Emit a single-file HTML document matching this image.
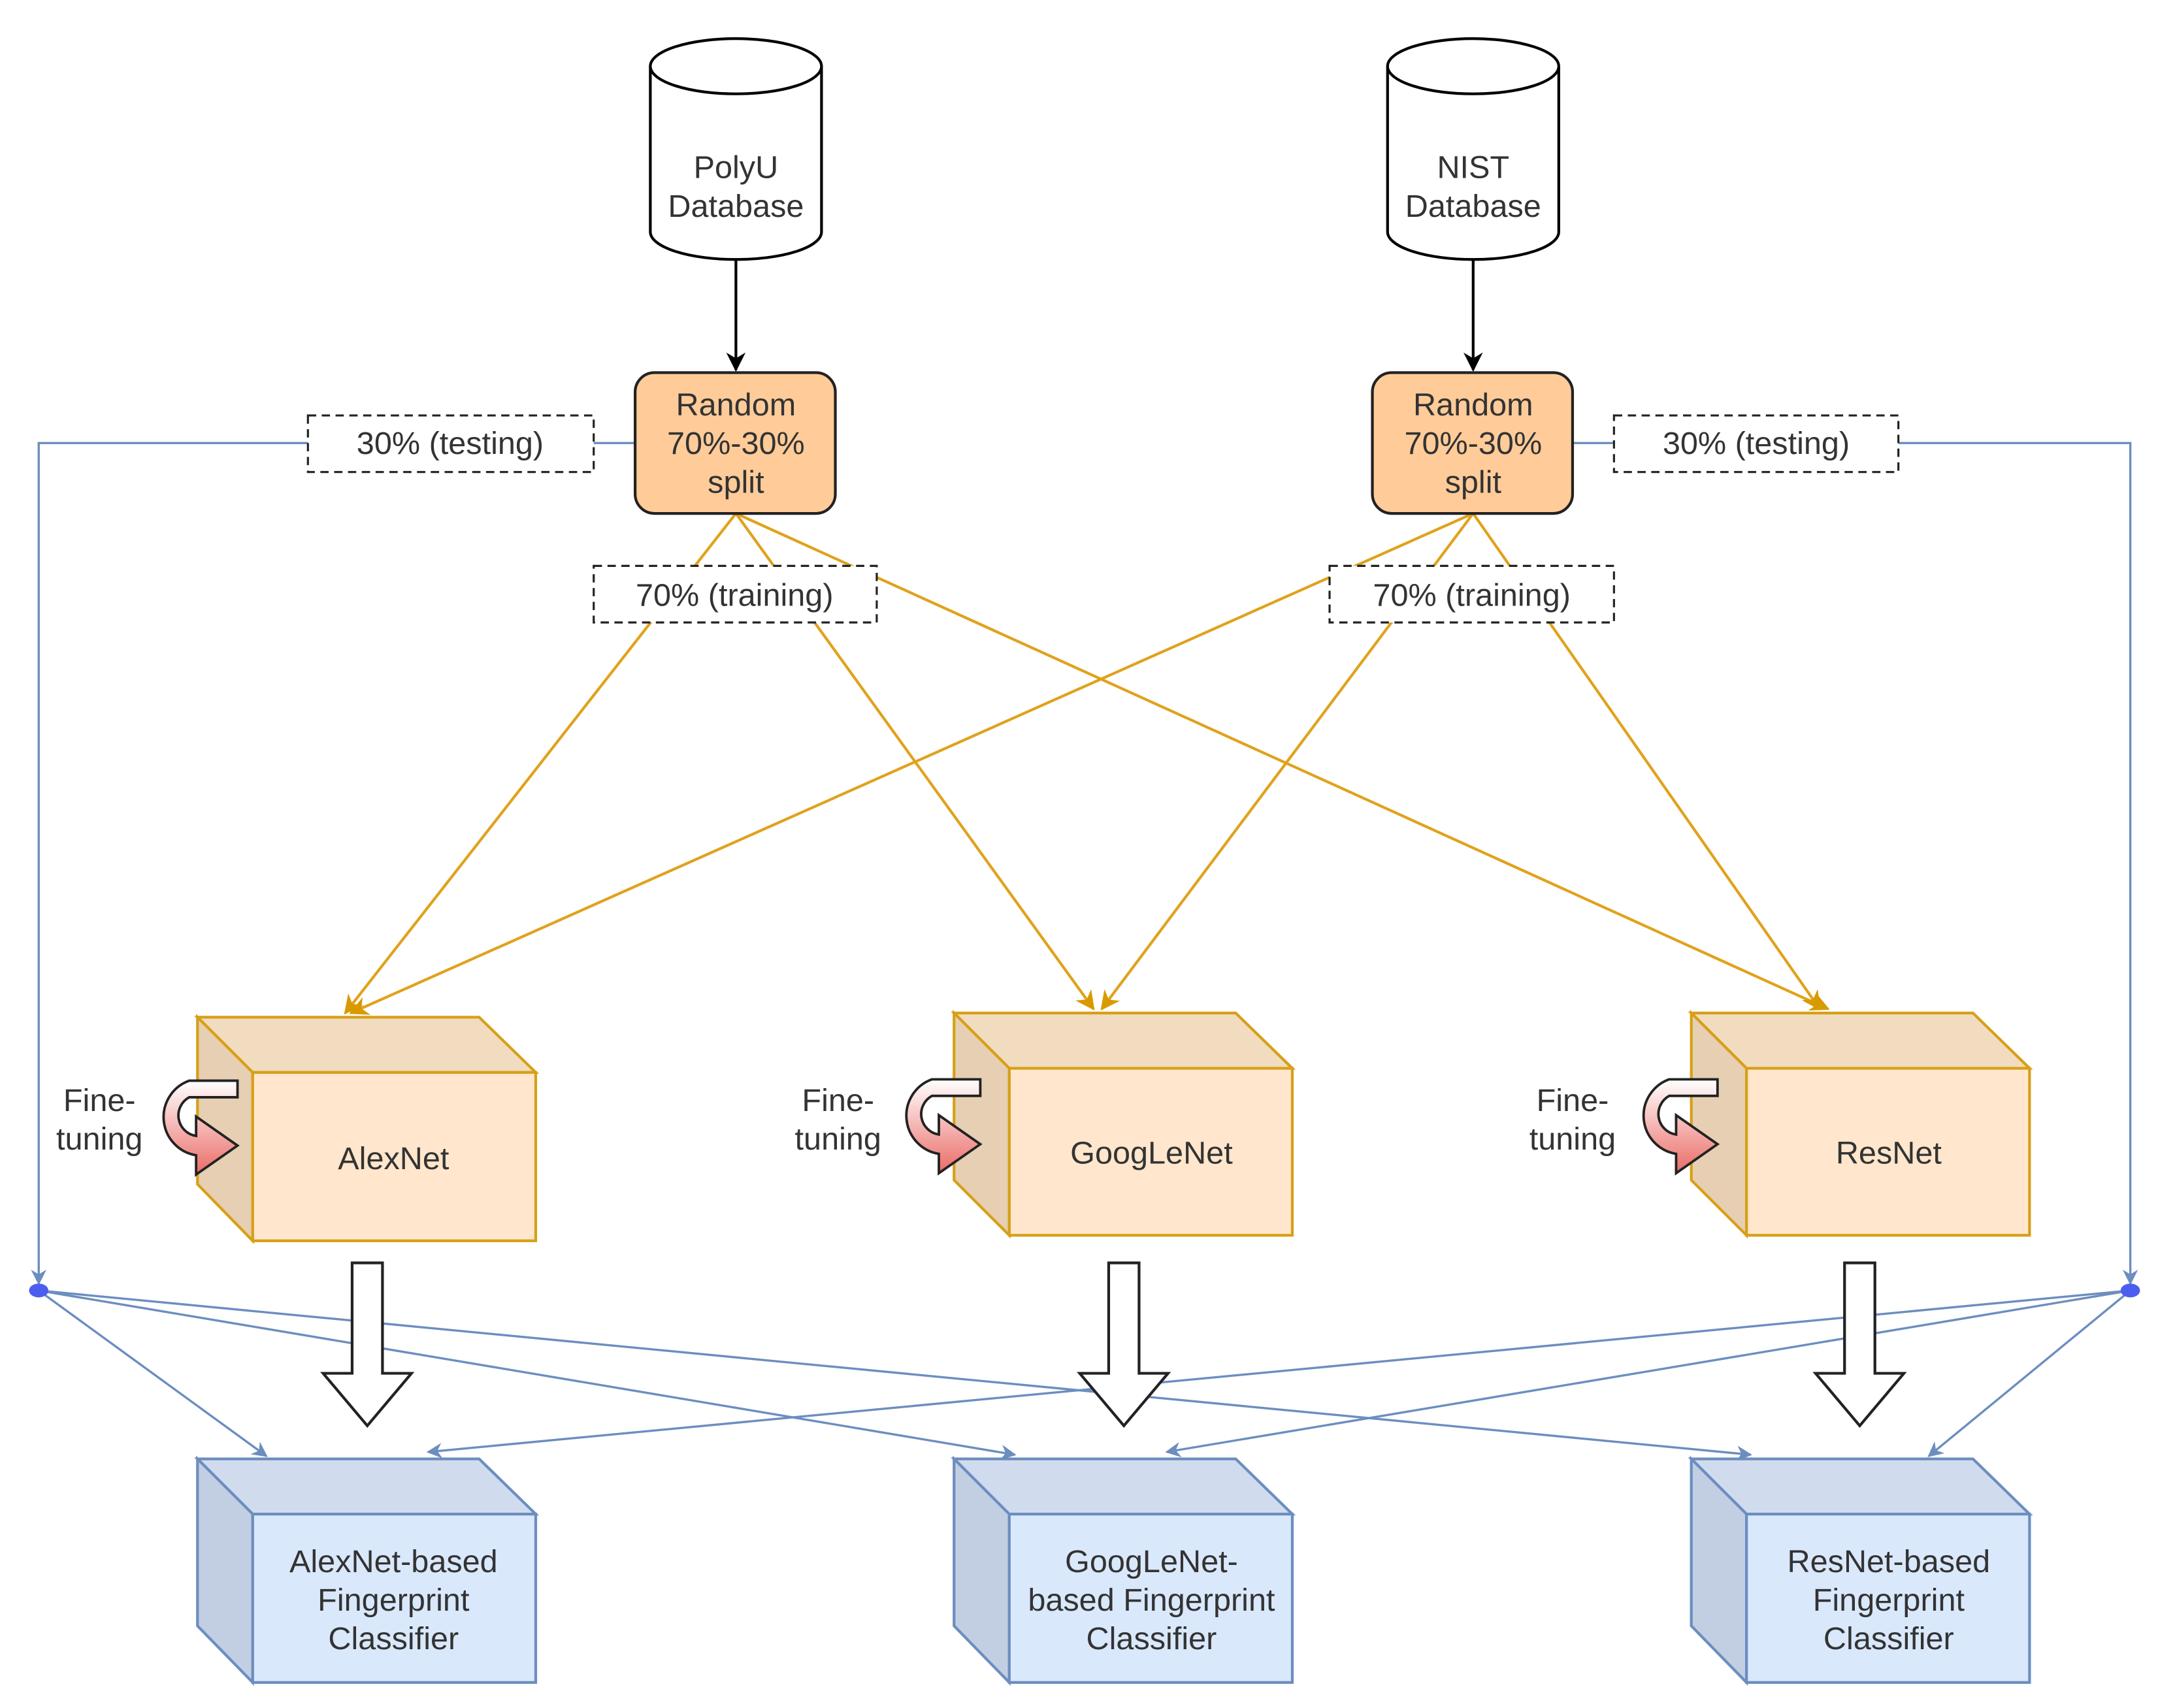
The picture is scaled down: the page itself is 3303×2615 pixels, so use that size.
<!DOCTYPE html>
<html><head><style>html,body{margin:0;padding:0;background:#fff}svg{display:block}</style></head>
<body>
<svg width="3303" height="2615" viewBox="0 0 1563 1237.5" xmlns="http://www.w3.org/2000/svg" font-family="Liberation Sans, sans-serif" font-size="23" fill="#333">
<defs>
<marker id="ab" viewBox="0 0 10 10" refX="9" refY="5" markerWidth="7" markerHeight="7" orient="auto"><path d="M0,0L10,5L0,10L3,5z" fill="#000"/></marker>
<marker id="ao" viewBox="0 0 10 10" refX="9" refY="5" markerWidth="7" markerHeight="7" orient="auto"><path d="M0,0L10,5L0,10L3,5z" fill="#d79b00"/></marker>
<marker id="abl" viewBox="0 0 10 10" refX="9" refY="5" markerWidth="7" markerHeight="7" orient="auto"><path d="M0,0L10,5L0,10L3,5z" fill="#6c8ebf"/></marker>
<linearGradient id="rg" x1="0" y1="0" x2="0" y2="1"><stop offset="0" stop-color="#fff"/><stop offset="1" stop-color="#ea6b66"/></linearGradient>
<g id="ft"><path d="M0,0 H-35 A28,28 0 0 0 -30,54 L-30,68 L0,47 L-30,26 L-30,40 A15,15 0 0 1 -35,12 H0 Z" fill="url(#rg)" stroke="#222" stroke-width="1.8"/></g>
</defs>
<!-- cylinders -->
<g stroke="#000" stroke-width="2" fill="#fff">
<path d="M471,48 V168 A62,20 0 0 0 595,168 V48"/><ellipse cx="533" cy="48" rx="62" ry="20"/>
<path d="M1005,48 V168 A62,20 0 0 0 1129,168 V48"/><ellipse cx="1067" cy="48" rx="62" ry="20"/>
</g>
<g text-anchor="middle"><text x="533" y="129">PolyU</text><text x="533" y="157">Database</text>
<text x="1067" y="129">NIST</text><text x="1067" y="157">Database</text></g>
<line x1="533" y1="188" x2="533" y2="268" stroke="#000" stroke-width="2" marker-end="url(#ab)"/>
<line x1="1067" y1="188" x2="1067" y2="268" stroke="#000" stroke-width="2" marker-end="url(#ab)"/>
<!-- blue testing lines -->
<g stroke="#6c8ebf" stroke-width="1.6" fill="none">
<polyline points="460,321 28,321 28,930" marker-end="url(#abl)"/>
<polyline points="1139,321 1543,321 1543,930" marker-end="url(#abl)"/>
<line x1="28" y1="935" x2="193" y2="1055" marker-end="url(#abl)"/>
<line x1="28" y1="935" x2="735" y2="1054" marker-end="url(#abl)"/>
<line x1="28" y1="935" x2="1268" y2="1054" marker-end="url(#abl)"/>
<line x1="1543" y1="935" x2="310" y2="1052" marker-end="url(#abl)"/>
<line x1="1543" y1="935" x2="845" y2="1052" marker-end="url(#abl)"/>
<line x1="1543" y1="935" x2="1397" y2="1055" marker-end="url(#abl)"/>
</g>
<ellipse cx="28" cy="935" rx="7" ry="5" fill="#4b5ef0"/><ellipse cx="1543" cy="935" rx="7" ry="5" fill="#4b5ef0"/>
<!-- orange lines -->
<g stroke="#e0a21c" stroke-width="2" fill="none">
<line x1="533" y1="372" x2="250" y2="734" marker-end="url(#ao)"/>
<line x1="533" y1="372" x2="792" y2="731" marker-end="url(#ao)"/>
<line x1="533" y1="372" x2="1324" y2="731" marker-end="url(#ao)"/>
<line x1="1067" y1="372" x2="254" y2="734" marker-end="url(#ao)"/>
<line x1="1067" y1="372" x2="798" y2="731" marker-end="url(#ao)"/>
<line x1="1067" y1="372" x2="1318" y2="731" marker-end="url(#ao)"/>
</g>
<!-- split boxes -->
<rect x="460" y="270" width="145" height="102" rx="14" fill="#ffcc99" stroke="#222" stroke-width="2"/>
<rect x="994" y="270" width="145" height="102" rx="14" fill="#ffcc99" stroke="#222" stroke-width="2"/>
<g text-anchor="middle"><text x="533" y="301">Random</text><text x="533" y="329">70%-30%</text><text x="533" y="357">split</text>
<text x="1067" y="301">Random</text><text x="1067" y="329">70%-30%</text><text x="1067" y="357">split</text></g>
<!-- dashed labels -->
<g fill="#fff" stroke="#222" stroke-width="1.5" stroke-dasharray="6,4">
<rect x="223" y="301" width="207" height="41"/><rect x="1169" y="301" width="206" height="41"/>
<rect x="430" y="410" width="205" height="41"/><rect x="963" y="410" width="206" height="41"/>
</g>
<g text-anchor="middle"><text x="326" y="329">30% (testing)</text><text x="1272" y="329">30% (testing)</text>
<text x="532" y="439">70% (training)</text><text x="1066" y="439">70% (training)</text></g>
<!-- orange cubes -->
<g stroke="#d6a018" stroke-width="2">
<g><path d="M143,737 H347 L388,777 H183 Z" fill="#f2dcc0"/><path d="M143,737 L183,777 V899 L143,858 Z" fill="#e6cfb2"/><rect x="183" y="777" width="205" height="122" fill="#ffe6cc"/></g>
<g><path d="M691,734 H895 L936,774 H731 Z" fill="#f2dcc0"/><path d="M691,734 L731,774 V895 L691,855 Z" fill="#e6cfb2"/><rect x="731" y="774" width="205" height="121" fill="#ffe6cc"/></g>
<g><path d="M1225,734 H1429 L1470,774 H1265 Z" fill="#f2dcc0"/><path d="M1225,734 L1265,774 V895 L1225,855 Z" fill="#e6cfb2"/><rect x="1265" y="774" width="205" height="121" fill="#ffe6cc"/></g>
</g>
<g text-anchor="middle"><text x="285" y="847">AlexNet</text><text x="834" y="843">GoogLeNet</text><text x="1368" y="843">ResNet</text></g>
<!-- fine tuning -->
<use href="#ft" x="172" y="783"/><use href="#ft" x="710" y="782"/><use href="#ft" x="1244" y="782"/>
<g text-anchor="middle"><text x="72" y="805">Fine-</text><text x="72" y="833">tuning</text>
<text x="607" y="805">Fine-</text><text x="607" y="833">tuning</text>
<text x="1139" y="805">Fine-</text><text x="1139" y="833">tuning</text></g>
<!-- hollow arrows -->
<g fill="#fff" stroke="#222" stroke-width="2">
<path d="M255,915 H277 V995 H298 L266,1033 L234,995 H255 Z"/>
<path d="M803,915 H825 V995 H846 L814,1033 L782,995 H803 Z"/>
<path d="M1336,915 H1358 V995 H1379 L1347,1033 L1315,995 H1336 Z"/>
</g>
<!-- blue cubes -->
<g stroke="#6c8ebf" stroke-width="2">
<g><path d="M143,1057 H347 L388,1097 H183 Z" fill="#d0dcee"/><path d="M143,1057 L183,1097 V1219 L143,1178 Z" fill="#c2cfe3"/><rect x="183" y="1097" width="205" height="122" fill="#dae8fc"/></g>
<g><path d="M691,1057 H895 L936,1097 H731 Z" fill="#d0dcee"/><path d="M691,1057 L731,1097 V1219 L691,1178 Z" fill="#c2cfe3"/><rect x="731" y="1097" width="205" height="122" fill="#dae8fc"/></g>
<g><path d="M1225,1057 H1429 L1470,1097 H1265 Z" fill="#d0dcee"/><path d="M1225,1057 L1265,1097 V1219 L1225,1178 Z" fill="#c2cfe3"/><rect x="1265" y="1097" width="205" height="122" fill="#dae8fc"/></g>
</g>
<g text-anchor="middle">
<text x="285" y="1139">AlexNet-based</text><text x="285" y="1167">Fingerprint</text><text x="285" y="1195">Classifier</text>
<text x="834" y="1139">GoogLeNet-</text><text x="834" y="1167">based Fingerprint</text><text x="834" y="1195">Classifier</text>
<text x="1368" y="1139">ResNet-based</text><text x="1368" y="1167">Fingerprint</text><text x="1368" y="1195">Classifier</text>
</g>
</svg>
</body></html>
